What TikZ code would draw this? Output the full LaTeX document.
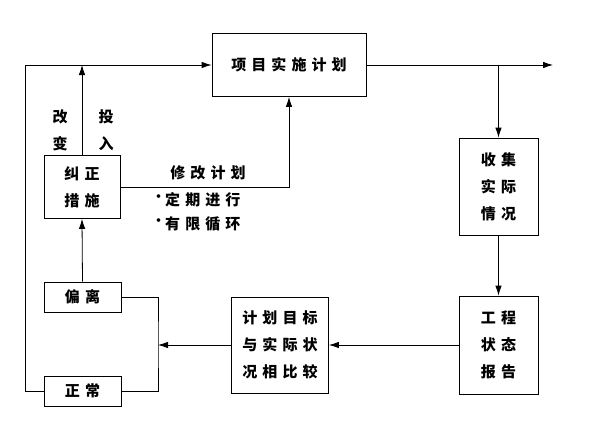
\documentclass[tikz,border=0pt]{standalone}
\usepackage{fontspec}
\setmainfont{Noto Sans CJK SC}[LetterSpace=34]
\usepackage{tikz}
\usetikzlibrary{arrows.meta}

\tikzset{
  box/.style={rectangle, draw, thick, inner sep=0pt, align=center,
    font=\fontsize{15}{27}\selectfont\bfseries},
  lbl/.style={inner sep=0pt, font=\fontsize{15}{27}\selectfont\bfseries},
  flow/.style={thick, -{Latex[length=10pt,width=6.5pt]}},
  link/.style={thick}
}

\begin{document}
\begin{tikzpicture}[x=1pt,y=-1pt]
\useasboundingbox (0,0) rectangle (598,423);
% boxes
\node[box, minimum width=154pt, minimum height=63pt] (plan) at (289,65) {项目实施计划};
\node[box, minimum width=79pt, minimum height=97pt] (collect) at (498.5,186.5) {收集\\实际\\情况};
\node[box, minimum width=79pt, minimum height=98pt] (report) at (498.5,345) {工程\\状态\\报告};
\node[box, minimum width=97pt, minimum height=96pt] (compare) at (280,345) {计划目标\\与实际状\\况相比较};
\node[box, minimum width=76pt, minimum height=63pt] (fix) at (82,187) {纠正\\措施};
\node[box, minimum width=77pt, minimum height=30pt] (dev) at (82.5,297) {偏离};
\node[box, minimum width=77pt, minimum height=30pt] (ok) at (82.5,391) {正常};
% helper points
\coordinate (out) at (553,65);
\coordinate (branch) at (collect.north |- plan.east);
\coordinate (junc) at (158,345);
\coordinate (corner) at (25,65);
% connectors
\draw[flow] (plan.east) -- (out);
\draw[flow] (branch) -- (collect.north);
\draw[flow] (collect.south) -- (report.north);
\draw[flow] (report.west) -- (compare.east);
\draw[flow] (compare.west) -- (junc);
\draw[link] (dev.east) -| (junc) |- (ok.east);
\draw[flow] (ok.west) -| (corner) -- (plan.west);
\draw[flow] (dev.north) -- (fix.south);
\draw[flow] (fix.north) -- (fix.north |- plan.west);
\draw[flow] (fix.east) -| (plan.south);
% labels
\node[lbl] (l1) at (60,117) {改};
\node[lbl] (l2) at (60,144) {变};
\node[lbl] (l3) at (106,117) {投};
\node[lbl] (l4) at (106,144) {入};
\node[lbl] (chg) at (208,173) {修改计划};
\node[lbl, anchor=west] (p1) at (152,200) {\raisebox{4pt}{\fontsize{13}{13}\selectfont •}定期进行};
\node[lbl, anchor=west] (p2) at (152,224) {\raisebox{4pt}{\fontsize{13}{13}\selectfont •}有限循环};
\end{tikzpicture}
\end{document}
